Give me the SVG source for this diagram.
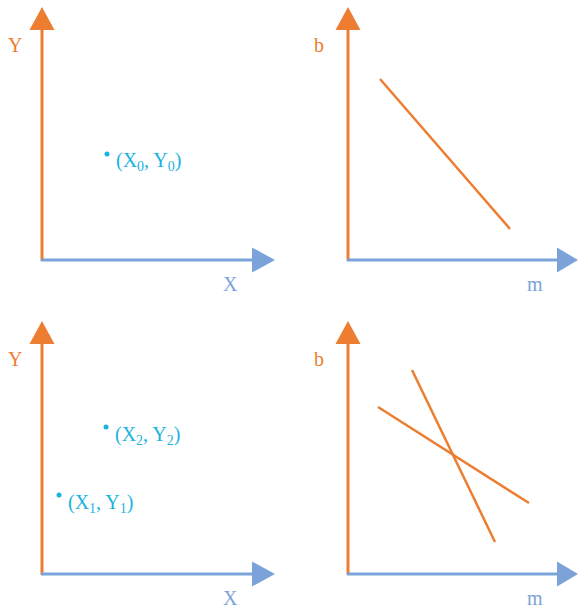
<svg xmlns="http://www.w3.org/2000/svg" width="578" height="608" viewBox="0 0 578 608">
<style>
.ax-v{stroke:#ED7D31;stroke-width:3;fill:none}
.ax-h{stroke:#7BA3D9;stroke-width:3;fill:none}
.hv{fill:#ED7D31}
.hh{fill:#7BA3D9}
.ln{stroke:#ED7D31;stroke-width:2.5;fill:none}
.lo{font-family:"Liberation Serif","DejaVu Serif",serif;font-size:20px;fill:#ED7D31}
.lb{font-family:"Liberation Serif","DejaVu Serif",serif;font-size:20px;fill:#7BA3D9}
.pt{font-family:"Liberation Serif","DejaVu Serif",serif;font-size:20px;fill:#1BB3DF}
.sub{font-size:14px}
.dot{fill:#1BB3DF}
</style>
<g id="connectors">
<line class="ax-v" x1="42" y1="261" x2="42" y2="26"/>
<polygon class="hv" points="42,7 29.5,30 54.5,30"/>
<line class="ax-h" x1="41" y1="260" x2="256" y2="260"/>
<polygon class="hh" points="275,260 252,247.5 252,272.5"/>
<line class="ax-v" x1="348" y1="261" x2="348" y2="26"/>
<polygon class="hv" points="348,7 335.5,30 360.5,30"/>
<line class="ax-h" x1="347" y1="260" x2="560" y2="260"/>
<polygon class="hh" points="578,260 557,247.5 557,272.5"/>
<line class="ax-v" x1="42" y1="575" x2="42" y2="340"/>
<polygon class="hv" points="42,321 29.5,344 54.5,344"/>
<line class="ax-h" x1="41" y1="574" x2="256" y2="574"/>
<polygon class="hh" points="275,574 252,561.5 252,586.5"/>
<line class="ax-v" x1="348" y1="575" x2="348" y2="340"/>
<polygon class="hv" points="348,321 335.5,344 360.5,344"/>
<line class="ax-h" x1="347" y1="574" x2="560" y2="574"/>
<polygon class="hh" points="578,574 557,561.5 557,586.5"/>
<line class="ln" x1="380" y1="79" x2="510" y2="229"/>
<line class="ln" x1="412" y1="370" x2="495" y2="542"/>
<line class="ln" x1="378" y1="407" x2="529" y2="503"/>
</g>
<g id="labels-top-left">
<text class="lo" x="8" y="52">Y</text>
<text class="lb" x="223" y="291">X</text>
</g>
<g id="labels-top-right">
<text class="lo" x="314" y="52">b</text>
<text class="lb" x="527" y="291">m</text>
</g>
<g id="labels-bottom-left">
<text class="lo" x="8" y="366">Y</text>
<text class="lb" x="223" y="605">X</text>
</g>
<g id="labels-bottom-right">
<text class="lo" x="314" y="366">b</text>
<text class="lb" x="527" y="605">m</text>
</g>
<g id="point-0">
<circle class="dot" cx="107" cy="154" r="2.5"/>
<text class="pt" x="116" y="167">(X<tspan class="sub" dy="4">0</tspan><tspan dy="-4">, Y</tspan><tspan class="sub" dy="4">0</tspan><tspan dy="-4">)</tspan></text>
</g>
<g id="point-2">
<circle class="dot" cx="106" cy="427" r="2.5"/>
<text class="pt" x="115" y="441">(X<tspan class="sub" dy="4">2</tspan><tspan dy="-4">, Y</tspan><tspan class="sub" dy="4">2</tspan><tspan dy="-4">)</tspan></text>
</g>
<g id="point-1">
<circle class="dot" cx="59" cy="495" r="2.5"/>
<text class="pt" x="68" y="509">(X<tspan class="sub" dy="4">1</tspan><tspan dy="-4">, Y</tspan><tspan class="sub" dy="4">1</tspan><tspan dy="-4">)</tspan></text>
</g>
</svg>
